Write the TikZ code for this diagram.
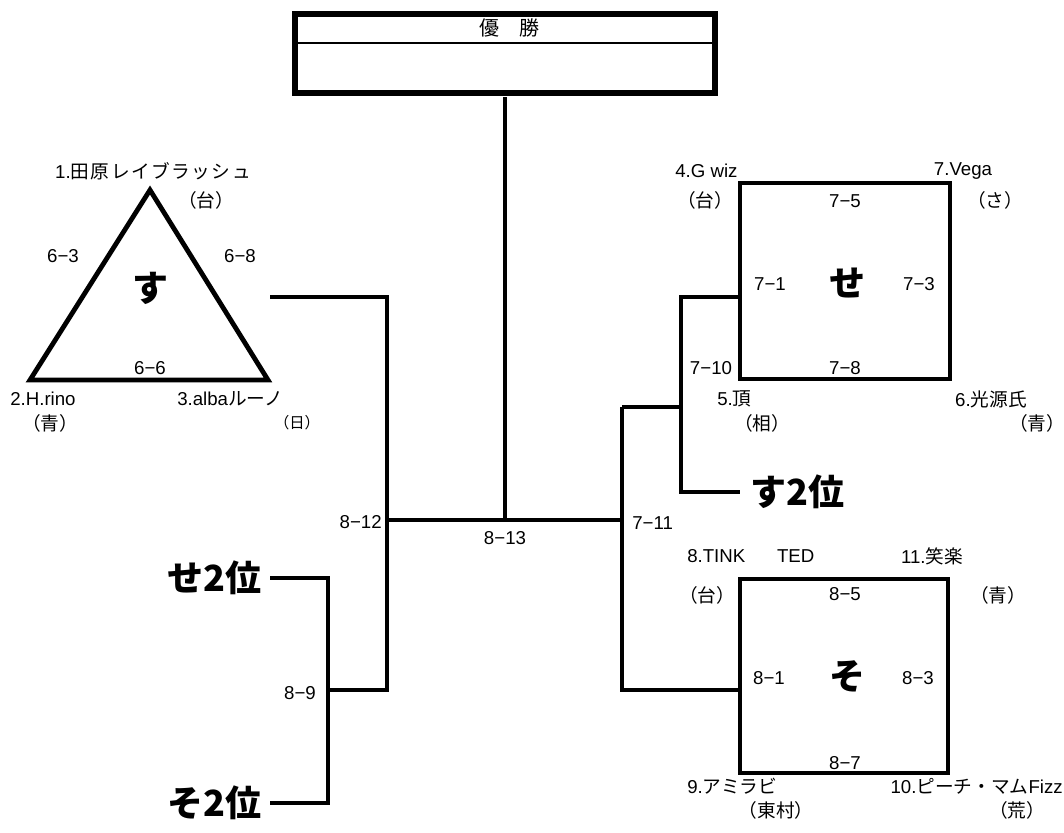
\documentclass[tikz,border=0pt]{standalone}
\usepackage{fontspec}
\setmainfont{Liberation Sans}
\newfontfamily\jpfont{Noto Sans CJK JP}
\newcommand{\jp}[1]{{\jpfont #1}}
\usetikzlibrary{calc}

\tikzset{
  bline/.style={line width=3.6pt},
  lbl/.style={font=\fontsize{14}{16}\selectfont, inner sep=0pt},
  sml/.style={font=\jpfont\fontsize{11.5}{13}\selectfont, inner sep=0pt},
  grp/.style={font=\jpfont\bfseries\fontsize{27}{30}\selectfont, inner sep=0pt},
}

\begin{document}
\begin{tikzpicture}[x=0.75pt, y=-0.75pt]
\useasboundingbox (0,0) rectangle (1064,832);

% Final box (winner)
\draw[line width=4.2pt] (295,14) rectangle (715,93);
\draw[line width=1pt] (295,43) -- (715,43);
\node[lbl, font=\jpfont\fontsize{15}{17}\selectfont] (win) at (509,28) {優\hspace{1em}勝};

% Bracket points
\coordinate (top) at (505,97);
\coordinate (mid) at (505,520);
\coordinate (L) at (385,520);
\coordinate (R) at (622,520);
\coordinate (suout) at (270,297);
\coordinate (Ltop) at (387,297);
\coordinate (Lbot) at (387,690);
\coordinate (m89) at (328,690);
\coordinate (se2) at (270,578);
\coordinate (so2) at (270,803);
\coordinate (Rtop) at (622,407);
\coordinate (Rbot) at (622,690);
\coordinate (m710) at (681,407);
\coordinate (setop) at (681,297);
\coordinate (sebot) at (681,492);
\coordinate (sein) at (740,297);
\coordinate (su2) at (740,492);
\coordinate (soin) at (740,690);

% Bracket lines
\draw[bline] (top) -- (mid);
\draw[bline] (L) -- (R);
\draw[bline] (suout) -- (Ltop) -- (Lbot) -- (m89);
\draw[bline] (se2) -- (se2 -| m89) -- (so2 -| m89) -- (so2);
\draw[bline] (Rtop) -- (Rbot) -- (soin);
\draw[bline] (Rtop) -- (m710);
\draw[bline] (sein) -- (setop) -- (sebot) -- (su2);

% Group す (triangle)
\coordinate (t1) at (150,190);
\coordinate (t2) at (30,380);
\coordinate (t3) at (268,380);
\draw[bline, line join=miter] (t1) -- (t2) -- (t3) -- cycle;
\node[grp] (su) at (150,288) {す};
\node[lbl] (s63) at (63,256) {6−3};
\node[lbl] (s68) at (240,256) {6−8};
\node[lbl] (s66) at (150,368) {6−6};
\node[lbl] (p1) at (153,171) {1.\jp{\addfontfeature{LetterSpace=8}田原レイブラッシュ}};
\node[lbl] (p1a) at (206,200) {\jp{（台）}};
\node[lbl, anchor=west] (p2) at (10,399) {2.H.rino};
\node[lbl] (p2a) at (50,423) {\jp{（青）}};
\node[lbl, anchor=west] (p3) at (177,399) {3.alba\jp{ルーノ}};
\node[sml] (p3a) at (297,423) {（日）};

% Group せ (square)
\draw[bline] (740,183) rectangle (950,379);
\node[grp] (se) at (847,283) {せ};
\node[lbl] (s75) at (845,201) {7−5};
\node[lbl] (s71) at (770,284) {7−1};
\node[lbl] (s73) at (919,284) {7−3};
\node[lbl] (s78) at (845,368) {7−8};
\node[lbl] (s710) at (711,368) {7−10};
\node[lbl, anchor=west] (p4) at (675,171) {4.G wiz};
\node[lbl] (p4a) at (705,200) {\jp{（台）}};
\node[lbl] (p7) at (963,171) {7.Vega};
\node[lbl] (p7a) at (995,200) {\jp{（さ）}};
\node[lbl, anchor=west] (p5) at (717,399) {5.\jp{頂}};
\node[lbl] (p5a) at (762,423) {\jp{（相）}};
\node[lbl] (p6) at (991,399) {6.\jp{光源氏}};
\node[lbl] (p6a) at (1037,423) {\jp{（青）}};

% Group そ (square)
\draw[bline] (740,579) rectangle (948,773);
\node[grp] (so) at (847,677) {そ};
\node[lbl] (s85) at (845,594) {8−5};
\node[lbl] (s81) at (769,678) {8−1};
\node[lbl] (s83) at (918,678) {8−3};
\node[lbl] (s87) at (845,763) {8−7};
\node[lbl, anchor=west] (p8) at (687,556) {8.TINK\hspace{1.7em}TED};
\node[lbl] (p8a) at (707,595) {\jp{（台）}};
\node[lbl] (p11) at (932,556) {11.\jp{笑楽}};
\node[lbl] (p11a) at (998,595) {\jp{（青）}};
\node[lbl, anchor=west] (p9) at (687,786) {9.\jp{アミラビ}};
\node[lbl] (p9a) at (776,810) {\jp{（東村）}};
\node[lbl, anchor=east] (p10) at (1063,786) {10.\jp{ピーチ・マム}Fizz};
\node[lbl] (p10a) at (1017,810) {\jp{（荒）}};

% Scores of the bracket
\node[lbl, anchor=east] (s812) at (382,522) {8−12};
\node[lbl] (s813) at (505,538) {8−13};
\node[lbl] (s89) at (300,693) {8−9};
\node[lbl, anchor=west] (s711) at (632,523) {7−11};

% Second places
\node[grp, anchor=east] (lse2) at (262,578) {せ2位};
\node[grp, anchor=east] (lso2) at (262,803) {そ2位};
\node[grp, anchor=west] (lsu2) at (750,492) {す2位};

\end{tikzpicture}
\end{document}
